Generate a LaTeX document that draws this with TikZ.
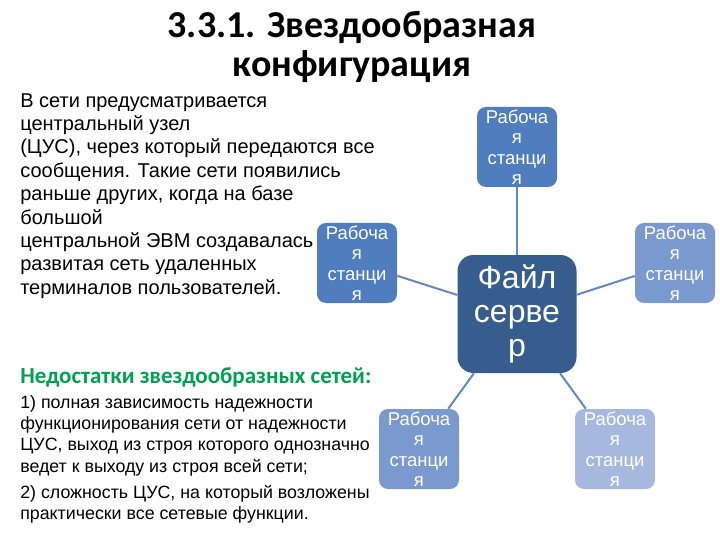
\documentclass[tikz,border=0pt]{standalone}
\usepackage{fontspec}
\setmainfont{Liberation Sans}
\newfontfamily\titlefont{Carlito}
\usetikzlibrary{positioning}
\definecolor{serverblue}{RGB}{54,93,142}
\definecolor{stationdark}{RGB}{79,125,189}
\definecolor{stationmid}{RGB}{122,153,206}
\definecolor{stationlight}{RGB}{166,184,222}
\definecolor{linkblue}{RGB}{103,136,190}
\definecolor{headgreen}{RGB}{0,160,80}

\begin{document}
\begin{tikzpicture}[x=1pt, y=-1pt, semithick,
            station/.style ={rectangle, rounded corners=9pt, fill=stationdark, text=white,
            minimum width=80pt, minimum height=80pt, inner sep=1pt, align=center,
            font=\fontsize{18.5}{20.5}\selectfont},
            server/.style ={rectangle, rounded corners=16pt, fill=serverblue, text=white,
            minimum width=119pt, minimum height=118pt, inner sep=1pt, align=center,
            font=\fontsize{32}{34}\selectfont},
            link/.style ={draw=linkblue, line width=2pt}]

        \useasboundingbox (0,0) rectangle (720,540);

        %--------------------------textos--------------------------
        \node[font=\titlefont\bfseries\fontsize{38}{39}\selectfont, align=center] (title) at (352,47)
            {3.3.1. Звездообразная\\конфигурация};

        \node[anchor=north west, inner sep=0pt, align=left, font=\fontsize{20}{23.4}\selectfont] (intro) at (20,93)
            {В сети предусматривается\\центральный узел\\(ЦУС), через который передаются все\\сообщения. Такие сети появились\\раньше других, когда на базе\\большой\\центральной ЭВМ создавалась\\развитая сеть удаленных\\терминалов пользователей.};

        \node[anchor=north west, inner sep=0pt, text=headgreen, font=\titlefont\bfseries\fontsize{23}{26}\selectfont] (cons) at (20,367)
            {Недостатки звездообразных сетей:};

        \node[anchor=north west, inner sep=0pt, align=left, font=\fontsize{17.8}{21.3}\selectfont] (items) at (20,395)
            {1) полная зависимость надежности\\функционирования сети от надежности\\ЦУС, выход из строя которого однозначно\\ведет к выходу из строя всей сети;\\[5pt]2) сложность ЦУС, на который возложены\\практически все сетевые функции.};

        %--------------------------nodos--------------------------
        \node[server] (S) at (517,314) {Файл\\серве\\р};

        \node[station] (W1) at (517,147) {Рабоча\\я\\станци\\я};
        \node[station, fill=stationmid] (W2) at (675,263) {Рабоча\\я\\станци\\я};
        \node[station, fill=stationlight] (W3) at (615,449) {Рабоча\\я\\станци\\я};
        \node[station, fill=stationmid] (W4) at (419,449) {Рабоча\\я\\станци\\я};
        \node[station] (W5) at (357,263) {Рабоча\\я\\станци\\я};

        %--------------------------enlaces--------------------------
        \path (S) edge[link] (W1);
        \path (S) edge[link] (W2);
        \path (S) edge[link] (W3);
        \path (S) edge[link] (W4);
        \path (S) edge[link] (W5);

    \end{tikzpicture}
\end{document}
